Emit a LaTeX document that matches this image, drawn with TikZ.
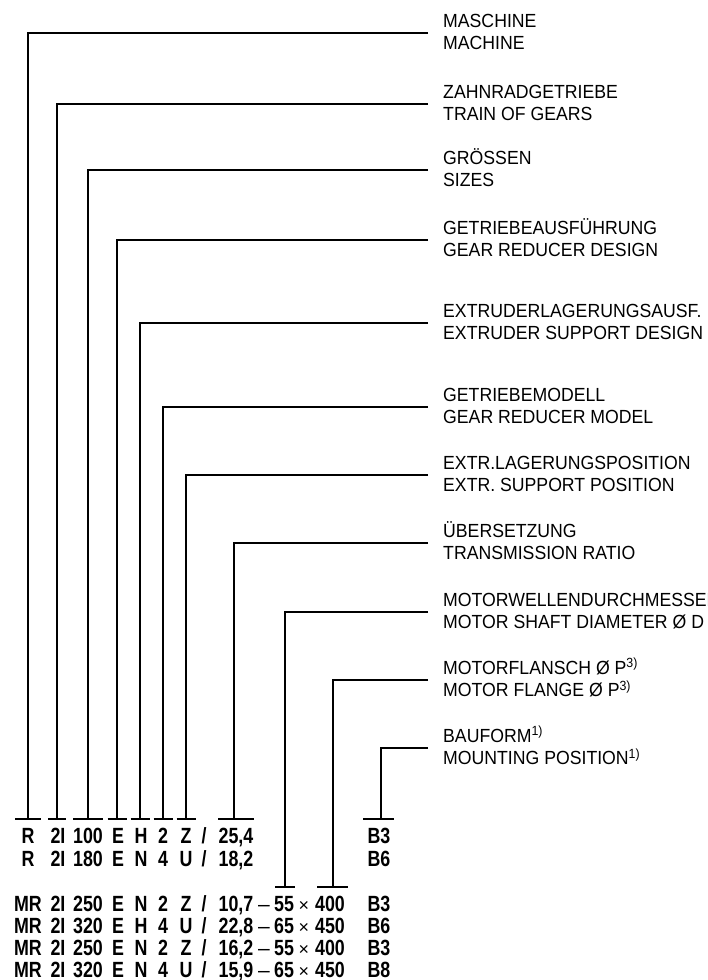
\documentclass[tikz,border=0pt]{standalone}
\usepackage{fontspec}
\setmainfont{Liberation Sans}
\newfontfamily\labelfont{Liberation Sans}[FakeStretch=0.93]
\newfontfamily\codefont{Liberation Sans}[FakeStretch=0.81]
\begin{document}
\begin{tikzpicture}[x=1pt,y=-1pt,
  lbl/.style={anchor=base west,inner sep=0pt,font=\labelfont\fontsize{19}{22}\selectfont},
  code/.style={anchor=base,inner sep=0pt,font=\codefont\bfseries\fontsize{22}{26}\selectfont},
  sepsign/.style={anchor=base,inner sep=0pt,font=\fontsize{21}{25}\selectfont},
  timessign/.style={anchor=base,inner sep=0pt,font=\fontsize{18}{22}\selectfont},
  conn/.style={line width=1.3pt}]
\useasboundingbox (0,0) rectangle (707,980);
\clip (0,0) rectangle (707,980);
% labels and connectors
\foreach \i/\y/\xs/\ty/\wl/\wr/\ta/\tb in {
  1/33/28/819/13/13/MASCHINE/MACHINE,
  2/104/57/819/9/9/ZAHNRADGETRIEBE/TRAIN OF GEARS,
  3/170/88/819/15/15/GRÖSSEN/SIZES,
  4/240/117/819/9.5/9.5/GETRIEBEAUSFÜHRUNG/GEAR REDUCER DESIGN,
  5/323/140/819/9.5/9.5/EXTRUDERLAGERUNGSAUSF./EXTRUDER SUPPORT DESIGN,
  6/407/163/819/9.5/9.5/GETRIEBEMODELL/GEAR REDUCER MODEL,
  7/475/186/819/9.5/9.5/EXTR.LAGERUNGSPOSITION/EXTR. SUPPORT POSITION,
  8/543/234/819/16/20/ÜBERSETZUNG/TRANSMISSION RATIO,
  9/612/285/887/10/10/MOTORWELLENDURCHMESSER/MOTOR SHAFT DIAMETER Ø D,
  10/680/333/887/16/15/MOTORFLANSCH Ø P\textsuperscript{3)}/MOTOR FLANGE Ø P\textsuperscript{3)},
  11/748/381/819/18/13/BAUFORM\textsuperscript{1)}/MOUNTING POSITION\textsuperscript{1)}}
{
  \node[lbl] (la\i) at (443,\y-6) {\ta};
  \node[lbl] (lb\i) at (443,\y+16.5) {\tb};
  \coordinate (e\i) at (428,\y);
  \coordinate (t\i) at (\xs,\ty);
  \draw[conn] (e\i) -| (t\i);
  \draw[conn] ([xshift=-\wl]t\i) -- ([xshift=\wr]t\i);
}
% code rows
\foreach \x/\t [count=\c] in {28/R,58/2I,88/100,118/E,141/H,163/2,186/Z,204/{/},236/{25,4},379/B3}
  \node[code] (ra\c) at (\x,843) {\t};
\foreach \x/\t [count=\c] in {28/R,58/2I,88/180,118/E,141/N,163/4,186/U,204/{/},236/{18,2},379/B6}
  \node[code] (rb\c) at (\x,866) {\t};
\foreach \yb/\r/\s/\e/\h/\n/\z/\v/\p [count=\k] in {
  911/250/N/2/Z/{10,7}/55/400/B3,
  933/320/H/4/U/{22,8}/65/450/B6,
  955/250/N/2/Z/{16,2}/55/400/B3,
  977/320/N/4/U/{15,9}/65/450/B8}
{
  \node[code] (m\k a) at (28,\yb) {MR};
  \node[code] (m\k b) at (58,\yb) {2I};
  \node[code] (m\k c) at (88,\yb) {\r};
  \node[code] (m\k d) at (118,\yb) {E};
  \node[code] (m\k e) at (141,\yb) {\s};
  \node[code] (m\k f) at (163,\yb) {\e};
  \node[code] (m\k g) at (186,\yb) {\h};
  \node[code] (m\k h) at (204,\yb) {/};
  \node[code] (m\k i) at (236,\yb) {\n};
  \node[sepsign] (m\k j) at (264,\yb) {–};
  \node[code] (m\k k) at (284,\yb) {\z};
  \node[timessign] (m\k l) at (304,\yb) {×};
  \node[code] (m\k m) at (330,\yb) {\v};
  \node[code] (m\k n) at (379,\yb) {\p};
}
\end{tikzpicture}
\end{document}
